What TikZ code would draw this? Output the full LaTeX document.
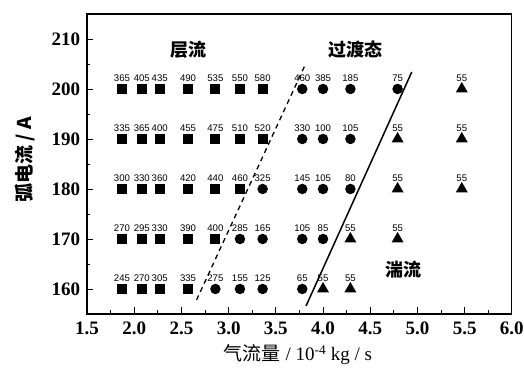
\documentclass[tikz,border=0pt]{standalone}
\usepackage{fontspec}
\setmainfont{Liberation Serif}
\setsansfont{Liberation Sans}
\newfontfamily\cjk{Noto Sans CJK SC}
\usepackage{tikz}
\usetikzlibrary{positioning}
\usetikzlibrary{shapes.geometric}

\tikzset{
  sqmark/.style={fill, inner sep=0pt, minimum size=10pt},
  dotmark/.style={circle, fill, inner sep=0pt, minimum size=10.5pt},
  trimark/.style={regular polygon, regular polygon sides=3, fill, inner sep=0pt, minimum size=14pt},
  val/.style={font=\sffamily\fontsize{9.6}{9.6}\selectfont, inner sep=0.5pt},
  ticklab/.style={font=\bfseries\fontsize{19}{19}\selectfont, inner sep=1pt},
  region/.style={font=\cjk\bfseries\fontsize{18}{18}\selectfont},
}

\begin{document}
\begin{tikzpicture}[x=94.4pt, y=5pt]
          \useasboundingbox (0.578,143) rectangle (6.129,217.8);
          \draw [line width=1.2pt] (1.5,155) rectangle (6.0,215);
          \foreach \x in {1.5,2.0,...,6.0}{
            \draw [thick] (\x,155) -- ++(0,1.3);
          }
          \foreach \x in {1.75,2.25,...,5.75}{
            \draw [thick] (\x,155) -- ++(0,0.7);
          }
          \foreach \y in {160,170,...,210}{
            \draw [thick] (1.5,\y) -- ++(0.065,0);
          }
          \foreach \y in {165,175,...,215}{
            \draw [thick] (1.5,\y) -- ++(0.035,0);
          }
          \foreach \x [count=\i] in {1.5,2.0,2.5,3.0,3.5,4.0,4.5,5.0,5.5,6.0}{
            \node [ticklab] (xl\i) at (\x,152.2) {\x};
          }
          \foreach \y in {160,170,...,210}{
            \node [ticklab, anchor=east] (yl\y) at (1.44,\y) {\y};
          }
          % data
          \foreach \x/\lab/\m [count=\i] in {
            1.87/365/sqmark, 2.08/405/sqmark, 2.27/435/sqmark, 2.57/490/sqmark,
            2.86/535/sqmark, 3.12/550/sqmark, 3.36/580/sqmark, 3.78/460/dotmark,
            4.0/385/dotmark, 4.29/185/dotmark, 4.79/75/dotmark, 5.47/55/trimark}{
            \node [\m] (r200-\i) at (\x,200) {};
            \node [val, above=7pt of r200-\i.center] (v200-\i) {\lab};
          }
          \foreach \x/\lab/\m [count=\i] in {
            1.87/335/sqmark, 2.08/365/sqmark, 2.27/400/sqmark, 2.57/455/sqmark,
            2.86/475/sqmark, 3.12/510/sqmark, 3.36/520/sqmark, 3.78/330/dotmark,
            4.0/100/dotmark, 4.29/105/dotmark, 4.79/55/trimark, 5.47/55/trimark}{
            \node [\m] (r190-\i) at (\x,190) {};
            \node [val, above=7pt of r190-\i.center] (v190-\i) {\lab};
          }
          \foreach \x/\lab/\m [count=\i] in {
            1.87/300/sqmark, 2.08/330/sqmark, 2.27/360/sqmark, 2.57/420/sqmark,
            2.86/440/sqmark, 3.12/460/sqmark, 3.36/325/dotmark, 3.78/145/dotmark,
            4.0/105/dotmark, 4.29/80/dotmark, 4.79/55/trimark, 5.47/55/trimark}{
            \node [\m] (r180-\i) at (\x,180) {};
            \node [val, above=7pt of r180-\i.center] (v180-\i) {\lab};
          }
          \foreach \x/\lab/\m [count=\i] in {
            1.87/270/sqmark, 2.08/295/sqmark, 2.27/330/sqmark, 2.57/390/sqmark,
            2.86/400/sqmark, 3.12/285/dotmark, 3.36/165/dotmark, 3.78/105/dotmark,
            4.0/85/dotmark, 4.29/55/trimark, 4.79/55/trimark}{
            \node [\m] (r170-\i) at (\x,170) {};
            \node [val, above=7pt of r170-\i.center] (v170-\i) {\lab};
          }
          \foreach \x/\lab/\m [count=\i] in {
            1.87/245/sqmark, 2.08/270/sqmark, 2.27/305/sqmark, 2.57/335/sqmark,
            2.86/275/dotmark, 3.12/155/dotmark, 3.36/125/dotmark, 3.78/65/dotmark,
            4.0/55/trimark, 4.29/55/trimark}{
            \node [\m] (r160-\i) at (\x,160) {};
            \node [val, above=7pt of r160-\i.center] (v160-\i) {\lab};
          }
          % boundaries
          \coordinate (dashlo) at (2.66,157.8);
          \coordinate (dashhi) at (3.81,204.8);
          \coordinate (solidlo) at (3.82,156.6);
          \coordinate (solidhi) at (4.94,203.4);
          \draw [line width=1.3pt, dash pattern=on 5pt off 4pt] (dashlo) -- (dashhi);
          \draw [line width=1.5pt] (solidlo) -- (solidhi);
          \node [region] (laminar) at (2.57,207.8) {层流};
          \node [region] (transit) at (4.34,207.8) {过渡态};
          \node [region] (turbulent) at (4.85,163.8) {湍流};
          \node [rotate=90, font=\bfseries\fontsize{19}{19}\selectfont] (ylab) at (0.843,185.8) {\cjk 弧电流 / A};
          \node [font=\fontsize{19}{19}\selectfont] (xlab) at (3.735,146.8) {{\cjk 气流量} / 10\textsuperscript{-4} kg / s};
        \end{tikzpicture}
\end{document}
